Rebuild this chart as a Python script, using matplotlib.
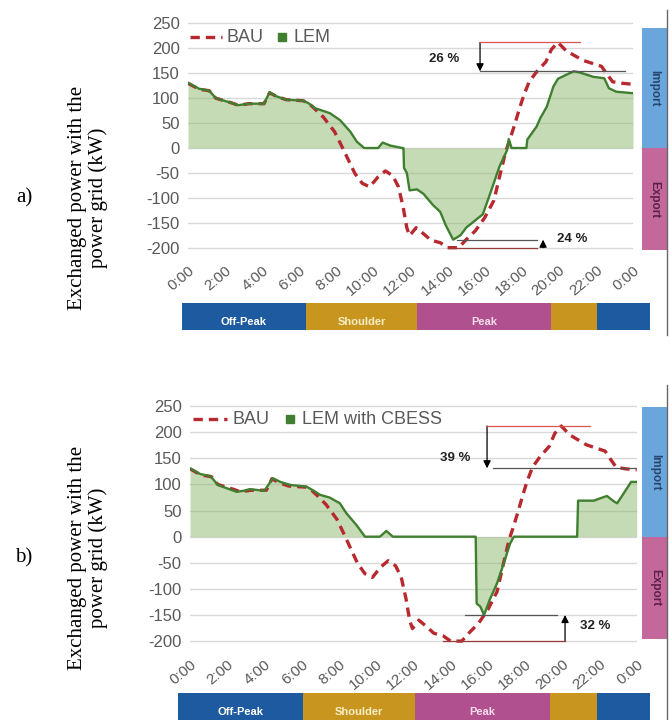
import matplotlib
matplotlib.use('Agg')
import matplotlib.pyplot as plt
from matplotlib.lines import Line2D
import numpy as np

plt.rcParams['font.family'] = ['Liberation Sans', 'DejaVu Sans']
plt.rcParams['axes.unicode_minus'] = False

# business as usual profile (hour of day, kW) - same in both panels
bau_h = [0, 0.6, 1.15, 1.5, 2.4, 2.7, 3.3, 4.1, 4.4, 4.75, 5.3, 6.2, 6.5, 6.8,
         7.3, 7.9, 8.3, 8.65, 9.0, 9.4, 9.8, 10.25, 10.65, 11.05, 11.35, 11.6,
         11.8, 11.95, 12.3, 12.7, 13.1, 13.6, 14.0, 14.6, 15.0, 15.5, 16.0,
         16.5, 16.85, 17.15, 17.35, 17.6, 17.85, 18.1, 18.4, 18.8, 19.3, 19.6,
         19.95, 20.4, 21.3, 22.3, 22.6, 22.9, 23.4, 24]
bau_kw = [130, 118, 115, 100, 90, 86, 89, 89, 111, 104, 97, 95, 90, 80,
          62, 33, 3, -24, -51, -71, -78, -58, -46, -56, -78, -118,
          -160, -176, -160, -172, -185, -190, -200, -200, -184, -166, -140,
          -105, -50, -5, 16, 45, 76, 105, 133, 153, 173, 198,
          212, 195, 176, 164, 148, 133, 130, 128]

# local energy market
lem_h = [0, 0.6, 1.15, 1.5, 2.4, 2.7, 3.3, 4.1, 4.4, 4.75, 5.3, 6.2, 6.5, 6.85,
         7.65, 8.2, 8.75, 9.1, 9.5, 10.25, 10.5, 10.9, 11.55, 11.62, 11.65,
         11.8, 11.95, 12.35, 12.7, 13.2, 13.6, 13.9, 14.3, 14.7, 15.0, 15.5,
         15.9, 16.3, 16.55, 16.8, 17.2, 17.3, 17.45, 18.25, 18.3, 18.8, 19.0,
         19.35, 19.7, 19.95, 20.4, 20.8, 21.1, 21.85, 22.45, 22.7, 23.1, 24]
lem_kw = [131, 119, 115, 100, 90, 86, 89, 89, 112, 104, 97, 95, 90, 80,
          70, 56, 33, 13, 0, 0, 11, 5, 0, 0, -40,
          -50, -85, -83, -92, -114, -128, -155, -184, -175, -160, -145,
          -133, -91, -64, -37, -5, 18, 0, 0, 17, 43, 60,
          83, 123, 139, 147, 154, 152, 143, 140, 120, 113, 110]

# local energy market with community battery
cbess_h = [0, 0.55, 1.1, 1.5, 2.5, 2.9, 3.2, 4.0, 4.45, 4.85, 5.4, 6.25, 6.6,
           7.0, 7.5, 8.05, 8.4, 8.95, 9.4, 10.2, 10.55, 10.9, 15.35, 15.4,
           15.6, 15.8, 16.1, 16.5, 16.8, 17.2, 17.4, 20.8, 20.85, 21.7, 22.0,
           22.4, 22.8, 22.95, 23.3, 23.7, 24]
cbess_kw = [131, 120, 116, 99, 86, 88, 91, 88, 112, 105, 99, 96, 89,
            80, 75, 64, 45, 22, 0, 0, 11, 0, 0, -128,
            -134, -150, -121, -89, -57, -13, 0, 0, 69, 69, 73,
            78, 67, 64, 83, 105, 105]

tick_hours = list(range(0, 25, 2))
tick_labels = ['0:00', '2:00', '4:00', '6:00', '8:00', '10:00', '12:00',
               '14:00', '16:00', '18:00', '20:00', '22:00', '0:00']

tariff_names = ['Off-Peak', 'Shoulder', 'Peak', '', '']
tariff_hours = [6.36, 5.69, 6.87, 2.36, 2.72]

peak_cut = ['26 %', '39 %']
export_cut = ['24 %', '32 %']

RED = '#b8292f'
GREEN = '#3f7f2f'
GREY = '#595959'
tariff_colors = ['#1d5aa0', '#c8961e', '#b0508e', '#c8961e', '#1d5aa0']
tariff_text = ['white', '#f7eec8', '#f6dcea', 'white', 'white']

fig = plt.figure(figsize=(6.7, 7.2), dpi=100)


def draw_panel(rect, side_rect, bar_rect, h, kw, name, leg, top, bottom,
               pct_top, pct_bottom, side_span):
    ax = fig.add_axes(rect)
    ax.fill_between(h, kw, 0, color='#8cb96e', alpha=0.5, lw=0, zorder=1)
    ax.plot(bau_h, bau_kw, color=RED, lw=2.4, dashes=(2.8, 1.8), zorder=2)
    ax.plot(h, kw, color=GREEN, lw=1.7, zorder=3)
    ax.set_xlim(0, 24)
    ax.set_ylim(-220, 260)
    ax.set_yticks(np.arange(-200, 251, 50))
    ax.set_xticks(tick_hours)
    ax.set_xticklabels(tick_labels, rotation=40, ha='right', va='top',
                       rotation_mode='anchor')
    ax.tick_params(length=0, labelcolor=GREY)
    ax.tick_params(axis='y', labelsize=12, pad=6)
    ax.tick_params(axis='x', labelsize=11, pad=4)
    ax.grid(axis='y', color='#d9d9d9', lw=1)
    ax.set_axisbelow(True)
    for s in ax.spines.values():
        s.set_visible(False)

    # legend drawn by hand (short square marker next to a long dash)
    x0, x1, xt, xs, xt2, ly = leg
    ax.plot([x0, x1], [ly, ly], transform=ax.transAxes, color=RED, lw=2.4,
            dashes=(2.8, 1.8), clip_on=False)
    ax.text(xt, ly, 'BAU', transform=ax.transAxes, ha='left', va='center',
            fontsize=13, color=GREY)
    ax.plot([xs], [ly], 's', transform=ax.transAxes, color=GREEN, ms=6)
    ax.text(xt2, ly, name, transform=ax.transAxes, ha='left', va='center',
            fontsize=13, color=GREY)

    # peak reduction
    bmax, lmax = max(bau_kw), max(kw)
    ax.plot(top[0], [bmax, bmax], color='#d9534f', lw=0.9, zorder=4)
    ax.plot(top[1], [lmax, lmax], color='#555555', lw=0.9, zorder=4)
    ax.annotate('', xy=(top[2], lmax), xytext=(top[2], bmax),
                arrowprops=dict(arrowstyle='-|>', color='black', lw=0.9,
                                mutation_scale=11, shrinkA=0, shrinkB=0))
    ax.text(pct_top[0], pct_top[1], pct_top[2], ha='center', va='center',
            fontsize=9.5, fontweight='bold', color='#222222')

    # export reduction
    bmin, lmin = min(bau_kw), min(kw)
    ax.plot(bottom[0], [bmin, bmin], color='#9a3b3b', lw=0.9, zorder=4)
    ax.plot(bottom[1], [lmin, lmin], color='#555555', lw=0.9, zorder=4)
    ax.annotate('', xy=(bottom[2], lmin), xytext=(bottom[2], bmin),
                arrowprops=dict(arrowstyle='-|>', color='black', lw=0.9,
                                mutation_scale=11, shrinkA=0, shrinkB=0),
                annotation_clip=False)
    ax.text(pct_bottom[0], pct_bottom[1], pct_bottom[2], ha='center',
            va='center', fontsize=9.5, fontweight='bold', color='#222222')

    # import / export strip on the right
    sx = fig.add_axes(side_rect)
    sx.set_ylim(-220, 260)
    sx.set_xlim(0, 1)
    sx.bar(0.5, side_span[0], width=1, color='#6aa6dc')
    sx.bar(0.5, side_span[1], width=1, color='#c4689c')
    sx.text(0.5, side_span[0] / 2, 'Import', rotation=-90, ha='center',
            va='center', fontsize=8.5, fontweight='bold', color='#26466d')
    sx.text(0.5, side_span[1] / 2, 'Export', rotation=-90, ha='center',
            va='center', fontsize=8.5, fontweight='bold', color='#5b2148')
    sx.axis('off')

    # tariff bar
    tx = fig.add_axes(bar_rect)
    left = np.concatenate([[0], np.cumsum(tariff_hours)[:-1]])
    tx.barh(0, tariff_hours, left=left, height=1, color=tariff_colors)
    for l, w, n, c in zip(left, tariff_hours, tariff_names, tariff_text):
        tx.text(l + w / 2, -0.22, n, ha='center', va='center', fontsize=8,
                fontweight='bold', color=c)
    tx.set_xlim(0, sum(tariff_hours))
    tx.set_ylim(-0.5, 0.5)
    tx.axis('off')
    return ax


ylab = 'Exchanged power with the\npower grid (kW)'

draw_panel([0.2806, 0.6422, 0.6642, 0.3321], [0.9582, 0.6422, 0.0373, 0.3321],
           [0.2716, 0.5417, 0.6985, 0.0375], lem_h, lem_kw, 'LEM',
           (0.0045, 0.0764, 0.0876, 0.211, 0.236, 0.9226),
           ((15.75, 21.14), (15.75, 23.57), 15.75),
           ((14.0, 18.8), (14.5, 18.8), 19.15),
           (13.83, 178.7, peak_cut[0]), (20.71, -182.7, export_cut[0]),
           (241, -205))

draw_panel([0.2836, 0.0951, 0.6667, 0.3480], [0.9582, 0.0951, 0.0388, 0.3480],
           [0.2657, 0.0, 0.7045, 0.0375], cbess_h, cbess_kw, 'LEM with CBESS',
           (0.0067, 0.083, 0.096, 0.224, 0.251, 0.928),
           ((15.96, 21.5), (16.28, 24.0), 15.96),
           ((13.6, 20.15), (14.78, 19.72), 20.15),
           (14.24, 150.8, peak_cut[1]), (21.76, -172, export_cut[1]),
           (248, -196))

for yc, tag in [(0.725, 'a)'), (0.225, 'b)')]:
    fig.text(0.036, yc, tag, ha='center', va='center', fontsize=15,
             family='Liberation Serif')
    fig.text(0.131, yc, ylab, ha='center', va='center', rotation=90,
             fontsize=15, family='Liberation Serif', linespacing=1.1)

# thin frame line at the right edge of the original screenshots
fig.add_artist(Line2D([0.9955, 0.9955], [1 - 10 / 720, 1 - 335 / 720],
                      color='#666666', lw=1))
fig.add_artist(Line2D([0.9955, 0.9955], [1 - 385 / 720, 0],
                      color='#666666', lw=1))

fig.savefig('out.png', dpi=100)
